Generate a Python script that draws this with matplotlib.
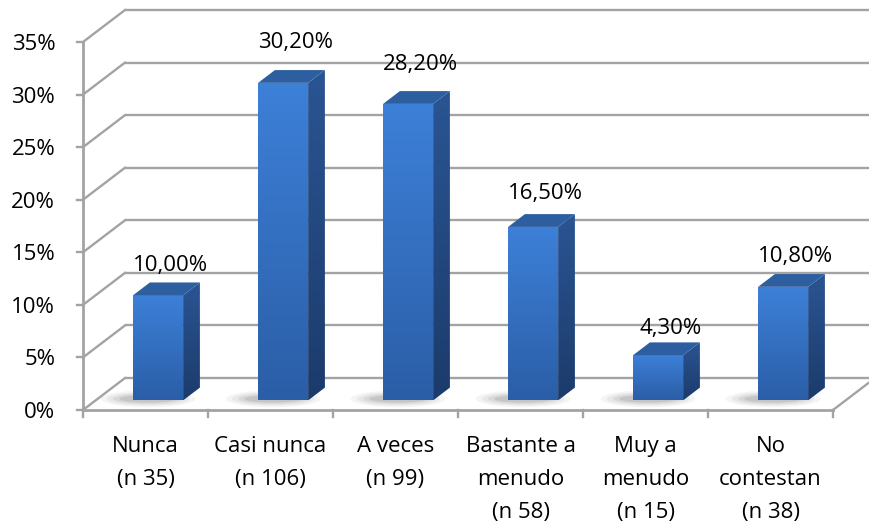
import numpy as np
import matplotlib.pyplot as plt
from matplotlib.patches import Polygon, Ellipse
from matplotlib.colors import to_rgb

# -------------------------------
# DATA
# -------------------------------
categories = ["Nunca\n(n 35)", "Casi nunca\n(n 106)", "A veces\n(n 99)",
              "Bastante a\nmenudo\n(n 58)", "Muy a\nmenudo\n(n 15)",
              "No\ncontestan\n(n 38)"]
values = [10.0, 30.2, 28.2, 16.5, 4.3, 10.8]
value_labels = ["10,00%", "30,20%", "28,20%", "16,50%", "4,30%", "10,80%"]
y_ticks = [0, 5, 10, 15, 20, 25, 30, 35]
y_tick_labels = ["0%", "5%", "10%", "15%", "20%", "25%", "30%", "35%"]

plt.rcParams['font.family'] = ['Open Sans', 'DejaVu Sans']
FS = 16
GRID = "#a3a3a3"

fig = plt.figure(figsize=(8.69, 5.27), dpi=100)
ax = fig.add_axes([83/869, 117/527, 750/869, 368/527])
n = len(values)

# pixel -> data helpers (axes is 750 x 368 px)
px_x = n / 750
px_y = 35 / 368

# depth of the 3d box (back wall offset)
DX = 42 * px_x
DY = 32 * px_y

# ===============================
# WALLS / FLOOR
# ===============================
for t in y_ticks:
    ax.plot([DX, n + DX], [t + DY, t + DY], color=GRID, lw=1.7,
            clip_on=False, zorder=1, solid_capstyle='butt')
    ax.plot([0, DX], [t, t + DY], color=GRID, lw=1.7, clip_on=False, zorder=1)
    # ticks on the front axis
    ax.plot([-6 * px_x, 0], [t, t], color=GRID, lw=1.7, clip_on=False, zorder=2)

ax.plot([0, 0], [0, 35], color=GRID, lw=2.0, clip_on=False, zorder=2)
ax.plot([0, n], [0, 0], color=GRID, lw=2.0, clip_on=False, zorder=2)
ax.plot([n, n + DX], [0, DY], color=GRID, lw=1.7, clip_on=False, zorder=2)
for i in range(n + 1):
    ax.plot([i, i], [0, -7 * px_y], color=GRID, lw=1.7, clip_on=False, zorder=2)

# ===============================
# 3D BARS
# ===============================
t0, t1 = 0.30, 0.70        # front / back of each bar along the depth
bw = 0.40                  # bar width in category units


def gradient(top, bottom, steps=64):
    a, b = np.array(to_rgb(top)), np.array(to_rgb(bottom))
    g = np.linspace(0, 1, steps)[:, None]
    return (a * (1 - g) + b * g)[:, None, :]


front_grad = gradient("#3d80d8", "#2b5ea7")
side_grad = gradient("#2a5593", "#1c3b6b")

for i, v in enumerate(values):
    x0 = i + 0.5 - bw / 2 + t0 * DX
    x1 = x0 + bw
    y0 = t0 * DY
    y1 = v + t0 * DY
    ddx = (t1 - t0) * DX
    ddy = (t1 - t0) * DY

    # soft shadow on the floor
    for k, a in enumerate([0.05, 0.07, 0.09, 0.12]):
        sh = Ellipse((x0 + bw * 0.3, y0 + 0.15), width=bw * (1.9 - 0.25 * k),
                     height=1.6 - 0.3 * k, facecolor="#404040", edgecolor="none",
                     alpha=a, zorder=2.5)
        ax.add_patch(sh)

    # front face
    front = Polygon([(x0, y0), (x1, y0), (x1, y1), (x0, y1)], closed=True,
                    facecolor="none", edgecolor="none", zorder=3)
    ax.add_patch(front)
    im = ax.imshow(front_grad, extent=[x0, x1, y0, y1], aspect='auto',
                   zorder=3, interpolation='bilinear')
    im.set_clip_path(front)

    # side face
    side_pts = [(x1, y0), (x1 + ddx, y0 + ddy), (x1 + ddx, y1 + ddy), (x1, y1)]
    side = Polygon(side_pts, closed=True, facecolor="none", edgecolor="none",
                   zorder=3)
    ax.add_patch(side)
    im = ax.imshow(side_grad, extent=[x1, x1 + ddx, y0, y1 + ddy],
                   aspect='auto', zorder=3, interpolation='bilinear')
    im.set_clip_path(side)

    # top face
    top = Polygon([(x0, y1), (x1, y1), (x1 + ddx, y1 + ddy), (x0 + ddx, y1 + ddy)],
                  closed=True, facecolor="#2d5e9f", edgecolor="none", zorder=3.1)
    ax.add_patch(top)

    # value label above the back edge of the top face
    ax.text(i + 0.5 + 0.6 * DX, v * 1.05 + 2.7, value_labels[i],
            ha='center', va='baseline', fontsize=FS, color="black", zorder=5)

# ===============================
# AXIS LABELS
# ===============================
for t, lbl in zip(y_ticks, y_tick_labels):
    ax.annotate(lbl, xy=(0, t), xytext=(-20, 0), textcoords='offset points',
                ha='right', va='center_baseline', fontsize=FS, annotation_clip=False)

for i, lbl in enumerate(categories):
    ax.annotate(lbl, xy=(i + 0.5, 0), xytext=(0, -19), textcoords='offset points',
                ha='center', va='top', fontsize=FS, linespacing=1.75,
                annotation_clip=False)

ax.set_xlim(0, n)
ax.set_ylim(0, 35)
ax.axis('off')

plt.savefig("out.png", dpi=100)
